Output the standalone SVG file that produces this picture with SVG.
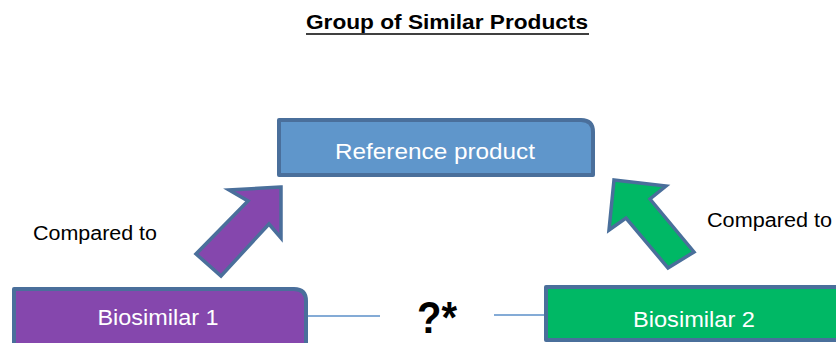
<svg xmlns="http://www.w3.org/2000/svg" width="836" height="343" viewBox="0 0 836 343">
<style>
.box{stroke:#4A6F9B;stroke-width:4;stroke-linejoin:round}
.arrow{stroke:#4A6F9B;stroke-width:3.5;stroke-linejoin:miter}
.lbl{font-family:"Liberation Sans",Arial,sans-serif;fill:#FFFFFF;font-size:22px;text-anchor:middle}
.cmp{font-family:"Liberation Sans",Arial,sans-serif;fill:#000000;font-size:20px}
.conn{stroke:#5B8FC9;stroke-width:1.5;fill:none}
</style>
<rect width="836" height="343" fill="#FFFFFF"/>
<g id="title">
<text x="447" y="29" font-family="Liberation Sans, Arial, sans-serif" font-weight="bold" font-size="20" text-anchor="middle" textLength="282" lengthAdjust="spacingAndGlyphs">Group of Similar Products</text>
<line x1="306" y1="34" x2="589" y2="34" stroke="#000000" stroke-width="1.5"/>
</g>
<g id="connectors">
<line class="conn" x1="307" y1="316" x2="380" y2="316"/>
<line class="conn" x1="494" y1="315" x2="545" y2="315"/>
<polygon class="arrow" fill="#8547AD" points="281,187 229,190 248,201 196,254 221,276 269,224 281,238"/>
<polygon class="arrow" fill="#00B865" points="614,180 666,186 650,199 694,252 668,268 626,218 609,230"/>
</g>
<g id="reference">
<path class="box" fill="#5F96CB" d="M279,120 H581 Q593,120 593,132 V175 H279 Z"/>
<text class="lbl" x="435" y="159" textLength="200" lengthAdjust="spacingAndGlyphs">Reference product</text>
</g>
<g id="biosimilar1">
<path class="box" fill="#8547AD" d="M14,289 H294 Q306,289 306,301 V360 H14 Z"/>
<text class="lbl" x="158" y="325" textLength="121" lengthAdjust="spacingAndGlyphs">Biosimilar 1</text>
</g>
<g id="biosimilar2">
<path class="box" fill="#00B865" d="M546,287 H850 V340 H546 Z"/>
<text class="lbl" x="694" y="327" textLength="122" lengthAdjust="spacingAndGlyphs">Biosimilar 2</text>
</g>
<g id="question">
<text x="437" y="333" font-family="Liberation Sans, Arial, sans-serif" font-weight="bold" font-size="44" text-anchor="middle" textLength="40" lengthAdjust="spacingAndGlyphs" fill="#000000">?*</text>
</g>
<g id="label-left">
<text class="cmp" x="33" y="240" textLength="124" lengthAdjust="spacingAndGlyphs">Compared to</text>
</g>
<g id="label-right">
<text class="cmp" x="707" y="227" textLength="125" lengthAdjust="spacingAndGlyphs">Compared to</text>
</g>
</svg>
